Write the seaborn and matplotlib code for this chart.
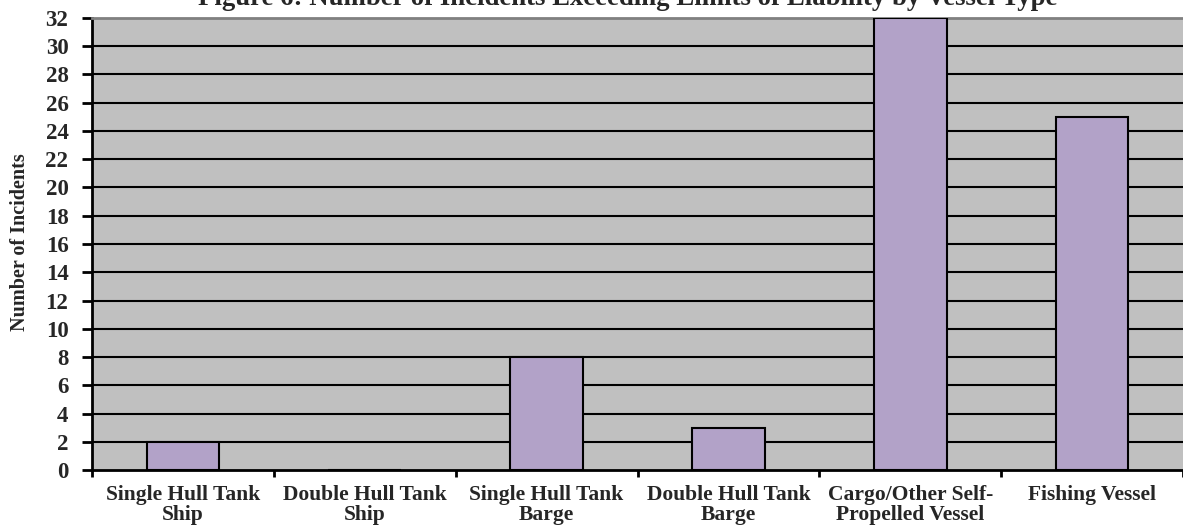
import numpy as np
import pandas as pd
import matplotlib.pyplot as plt
import seaborn as sns

# Data
vessel_types = ['Single Hull Tank\nShip', 'Double Hull Tank\nShip', 'Single Hull Tank\nBarge',
                'Double Hull Tank\nBarge', 'Cargo/Other Self-\nPropelled Vessel', 'Fishing Vessel']
incidents = [2, 0, 8, 3, 32, 25]
y_ticks = list(range(0, 33, 2))

df = pd.DataFrame({'vessel': vessel_types, 'incidents': incidents})

sns.set_style('white')
plt.rcParams['font.family'] = ['Liberation Serif', 'DejaVu Serif']
plt.rcParams['font.weight'] = 'bold'

fig = plt.figure(figsize=(11.83, 5.29), dpi=100)
ax = fig.add_axes([0.0778, 0.1115, 0.9222, 0.8545])
ax.set_facecolor('#C0C0C0')

sns.barplot(data=df, x='vessel', y='incidents', color='#B2A2C8', width=0.4,
            edgecolor='black', linewidth=1.5, saturation=1, ax=ax, zorder=3)

ax.set_ylim(0, 32)
ax.set_xlim(-0.5, 5.5)
ax.set_yticks(y_ticks)
for t in y_ticks[1:-1]:
    ax.axhline(t, color='black', lw=1.5, zorder=1)

# category boundaries as major ticks, labels at the centres
ax.set_xticks(np.arange(-0.5, 6, 1))
ax.set_xticklabels([])
ax.set_xticks(np.arange(6), minor=True)
ax.set_xticklabels(vessel_types, minor=True, fontsize=15.5, fontweight='bold', linespacing=1.0)
ax.tick_params(axis='x', which='major', direction='out', length=5, width=2, color='black', bottom=True)
ax.tick_params(axis='x', which='minor', length=0, pad=11)
ax.tick_params(axis='y', direction='out', length=7, width=2, color='black', left=True,
               labelsize=16.5, pad=10)
for lab in ax.get_yticklabels():
    lab.set_fontweight('bold')

for side in ['left', 'bottom']:
    ax.spines[side].set_color('black')
    ax.spines[side].set_linewidth(2)
ax.spines['top'].set_color('#808080')
ax.spines['top'].set_linewidth(2)
ax.spines['right'].set_visible(False)

ax.set_xlabel('')
ax.set_ylabel('Number of Incidents', fontsize=14.5, fontweight='bold')
ax.yaxis.set_label_coords(-0.057, 0.505)

# title sits partly above the top edge, as in the original
fig.text(0.531, 0.9905, 'Figure 6: Number of Incidents Exceeding Limits of Liability by Vessel Type',
         ha='center', va='baseline', fontsize=19.3, fontweight='bold')

fig.savefig('out.png', dpi=100)
